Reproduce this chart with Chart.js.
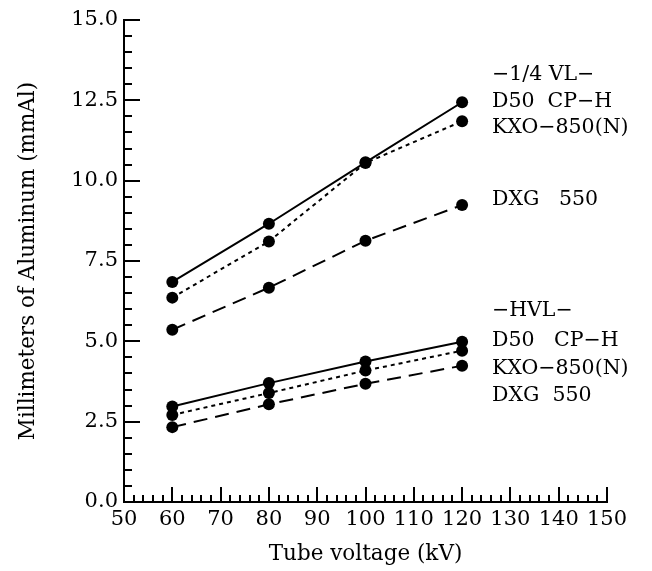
<!DOCTYPE html>
<html>
<head>
<meta charset="utf-8">
<script src="https://cdn.jsdelivr.net/npm/chart.js@4"></script>
<style>
  html, body { margin: 0; padding: 0; background: #fff; }
  canvas { display: block; }
</style>
</head>
<body>
<canvas id="chart" width="652" height="571"></canvas>
<script>
// tube voltages (kV)
var voltages = [60, 80, 100, 120];
// -1/4 VL- (mmAl)
var vlD50 = [6.85, 8.66, 10.57, 12.44];
var vlKXO = [6.36, 8.11, 10.55, 11.85];
var vlDXG = [5.36, 6.67, 8.13, 9.24];
// -HVL- (mmAl)
var hvlD50 = [2.97, 3.70, 4.37, 4.99];
var hvlKXO = [2.71, 3.39, 4.09, 4.71];
var hvlDXG = [2.33, 3.04, 3.68, 4.24];

var fontFamily = "'DejaVu Serif', serif";

function pts(ys) {
  return voltages.map(function (v, i) { return { x: v, y: ys[i] }; });
}

function series(label, ys, dash) {
  return {
    label: label,
    data: pts(ys),
    borderColor: '#000',
    backgroundColor: '#000',
    borderWidth: 2,
    borderDash: dash,
    pointRadius: 6,
    pointBorderWidth: 0,
    tension: 0
  };
}

// inward tick marks + side notes
var decor = {
  id: 'decor',
  afterDraw: function (chart) {
    var ctx = chart.ctx;
    var xs = chart.scales.x, ys = chart.scales.y;
    var ca = chart.chartArea;
    ctx.save();
    ctx.strokeStyle = '#000';
    ctx.lineWidth = 2;
    ctx.beginPath();
    for (var v = 0; v <= 15.001; v += 0.5) {
      var py = Math.round(ys.getPixelForValue(v));
      var major = Math.abs(v / 2.5 - Math.round(v / 2.5)) < 1e-6;
      ctx.moveTo(ca.left, py);
      ctx.lineTo(ca.left + (major ? 16 : 8), py);
    }
    for (var k = 50; k <= 150; k += 2) {
      var px = Math.round(xs.getPixelForValue(k));
      var len = (k % 10 === 0) ? 15 : 7;
      ctx.moveTo(px, ca.bottom);
      ctx.lineTo(px, ca.bottom - len);
    }
    ctx.stroke();

    ctx.fillStyle = '#000';
    ctx.font = '20.5px ' + fontFamily;
    ctx.textBaseline = 'middle';
    ctx.textAlign = 'left';
    var tx = ca.right - 115;
    var notes = [
      ['\u22121/4 VL\u2212', 75], ['D50  CP\u2212H', 102], ['KXO\u2212850(N)', 128], ['DXG   550', 200],
      ['\u2212HVL\u2212', 311], ['D50   CP\u2212H', 341], ['KXO\u2212850(N)', 369], ['DXG  550', 396]
    ];
    notes.forEach(function (n) { ctx.fillText(n[0], tx, n[1]); });
    ctx.restore();
  }
};

new Chart(document.getElementById('chart').getContext('2d'), {
  type: 'line',
  data: {
    datasets: [
      series('1/4 VL D50 CP-H', vlD50, []),
      series('1/4 VL KXO-850(N)', vlKXO, [4, 4]),
      series('1/4 VL DXG 550', vlDXG, [14, 8]),
      series('HVL D50 CP-H', hvlD50, []),
      series('HVL KXO-850(N)', hvlKXO, [4, 4]),
      series('HVL DXG 550', hvlDXG, [14, 8])
    ]
  },
  options: {
    responsive: false,
    animation: false,
    layout: { padding: { left: 0, right: 45, top: 20, bottom: 0 } },
    plugins: { legend: { display: false }, tooltip: { enabled: false } },
    scales: {
      x: {
        type: 'linear',
        min: 50, max: 150,
        border: { color: '#000', width: 2 },
        grid: { display: false, drawTicks: false },
        ticks: { stepSize: 10, color: '#000', padding: 5, maxRotation: 0,
                 font: { family: fontFamily, size: 21 } },
        title: { display: true, text: 'Tube voltage (kV)', color: '#000', padding: { top: 6 },
                 font: { family: fontFamily, size: 21.5 } },
        afterFit: function (s) { s.height = 69; }
      },
      y: {
        min: 0, max: 15,
        border: { color: '#000', width: 2 },
        grid: { display: false, drawTicks: false },
        ticks: { stepSize: 2.5, color: '#000', padding: 6,
                 font: { family: fontFamily, size: 21 },
                 callback: function (v) { return v.toFixed(1); } },
        title: { display: true, text: 'Millimeters of Aluminum (mmAl)', color: '#000',
                 padding: { top: 16 },
                 font: { family: fontFamily, size: 21.5 } },
        afterFit: function (s) { s.width = 124; }
      }
    }
  },
  plugins: [decor]
});
</script>
</body>
</html>
